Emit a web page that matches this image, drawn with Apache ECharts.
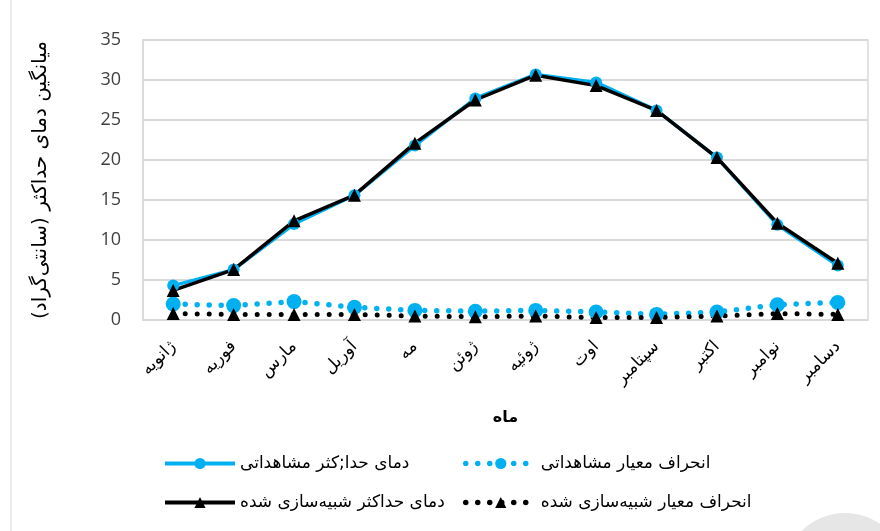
<!DOCTYPE html>
<html>
<head>
<meta charset="utf-8">
<script src="https://cdn.jsdelivr.net/npm/echarts@6/dist/echarts.min.js"></script>
<style>
  html, body { margin: 0; padding: 0; background: #fff; }
  #chart { width: 880px; height: 531px; }
</style>
</head>
<body>
<div id="chart"></div>
<script>
const months = ['ژانویه', 'فوریه', 'مارس', 'آوریل', 'مه', 'ژوئن', 'ژوئیه', 'اوت', 'سپتامبر', 'اکتبر', 'نوامبر', 'دسامبر'];
const obsMax = [4.3, 6.3, 12.0, 15.6, 21.8, 27.7, 30.7, 29.7, 26.2, 20.3, 11.9, 6.8];
const simMax = [3.7, 6.3, 12.4, 15.6, 22.1, 27.5, 30.6, 29.3, 26.2, 20.3, 12.1, 7.1];
const obsStd = [2.0, 1.8, 2.3, 1.6, 1.2, 1.1, 1.2, 1.0, 0.7, 1.0, 1.9, 2.2];
const simStd = [0.8, 0.7, 0.7, 0.7, 0.5, 0.4, 0.5, 0.3, 0.3, 0.5, 0.8, 0.7];

const FONT = 'DejaVu Sans';
const chart = echarts.init(document.getElementById('chart'));

// legend text is a bit bigger than the axis text in the original
const legendText = { fontFamily: FONT, fontSize: 17, color: '#000' };

chart.setOption({
  animation: false,
  textStyle: { fontFamily: FONT },
  grid: { left: 143, right: 12, top: 40, bottom: 211, show: true, borderColor: '#d9d9d9', borderWidth: 1.5 },
  graphic: [
    { type: 'line', shape: { x1: 11, y1: 0, x2: 11, y2: 531 }, style: { stroke: '#d9d9d9', lineWidth: 1 } },
    { type: 'circle', shape: { cx: 845, cy: 575, r: 62 }, style: { fill: '#e6e6e6' }, z: -1 }
  ],
  legend: [
    {
      orient: 'vertical', left: 158, top: 450, itemWidth: 70, itemHeight: 14, itemGap: 22,
      textStyle: legendText, lineStyle: { width: 4 },
      data: ['دمای حدا;کثر مشاهداتی', 'دمای حداکثر شبیه‌سازی شده']
    },
    {
      orient: 'vertical', left: 458, top: 450, itemWidth: 70, itemHeight: 14, itemGap: 22,
      textStyle: legendText, lineStyle: { width: 5.5 },
      data: ['انحراف معیار مشاهداتی', 'انحراف معیار شبیه‌سازی شده']
    }
  ],
  xAxis: {
    type: 'category',
    data: months,
    boundaryGap: true,
    name: 'ماه',
    nameLocation: 'middle',
    nameGap: 90,
    nameTextStyle: { fontFamily: FONT, fontSize: 16, fontWeight: 'bold', color: '#000' },
    axisLine: { lineStyle: { color: '#d9d9d9', width: 1.5 } },
    axisTick: { show: false },
    axisLabel: { rotate: 45, margin: 24, fontFamily: FONT, fontSize: 17, color: '#000', interval: 0 }
  },
  yAxis: {
    type: 'value',
    min: 0, max: 35, interval: 5,
    name: 'میانگین دمای حداکثر (سانتی‌گراد)',
    nameLocation: 'middle',
    nameRotate: 90,
    nameGap: 92,
    nameTextStyle: { fontFamily: FONT, fontSize: 20, color: '#000' },
    axisLine: { show: true, lineStyle: { color: '#d9d9d9', width: 1.5 } },
    axisTick: { show: false },
    splitLine: { lineStyle: { color: '#d9d9d9', width: 2 } },
    axisLabel: { fontFamily: 'Open Sans', fontSize: 18, color: '#404040', margin: 22 }
  },
  series: [
    {
      name: 'انحراف معیار مشاهداتی', type: 'line', data: obsStd,
      symbol: 'circle', symbolSize: 15,
      itemStyle: { color: '#00b0f0' },
      lineStyle: { color: '#00b0f0', width: 5.5, type: [0, 12], cap: 'round' }
    },
    {
      name: 'انحراف معیار شبیه‌سازی شده', type: 'line', data: simStd,
      symbol: 'triangle', symbolSize: 13,
      itemStyle: { color: '#000' },
      lineStyle: { color: '#000', width: 5, type: [0, 12], cap: 'round' }
    },
    {
      name: 'دمای حدا;کثر مشاهداتی', type: 'line', data: obsMax,
      symbol: 'circle', symbolSize: 12,
      itemStyle: { color: '#00b0f0' },
      lineStyle: { color: '#00b0f0', width: 3.5 }
    },
    {
      name: 'دمای حداکثر شبیه‌سازی شده', type: 'line', data: simMax,
      symbol: 'triangle', symbolSize: 13,
      itemStyle: { color: '#000' },
      lineStyle: { color: '#000', width: 3.5 }
    }
  ]
});
</script>
</body>
</html>
